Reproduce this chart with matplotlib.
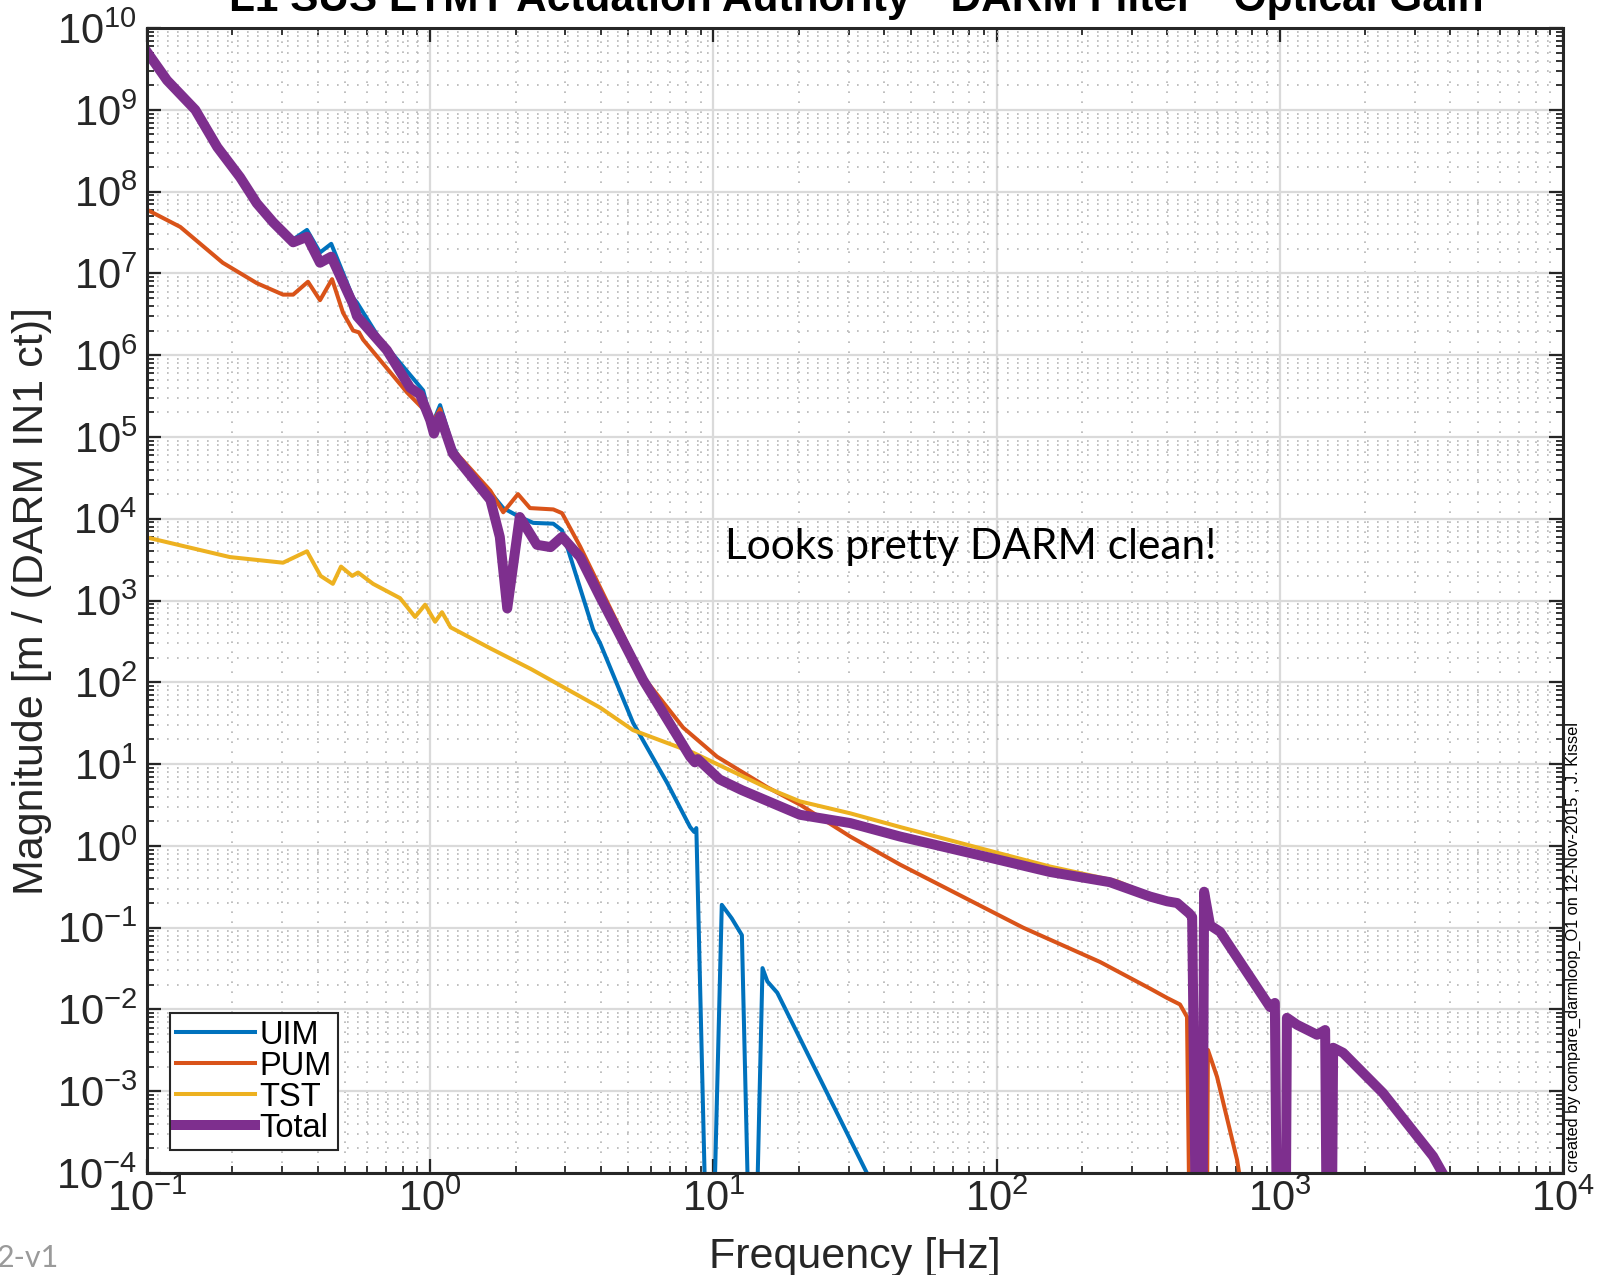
import numpy as np
import matplotlib
matplotlib.use("Agg")
from matplotlib import pyplot as plt
from matplotlib.ticker import LogLocator, NullFormatter

plt.rcParams['font.family'] = ['Liberation Sans', 'DejaVu Sans']

# values (Hz, m/ct)
uim_f = [0.1, 0.1176, 0.148, 0.177, 0.213, 0.244, 0.279, 0.328, 0.367, 0.408, 0.447,
         0.534, 0.551, 0.665, 0.703, 0.944, 1.0, 1.03, 1.083, 1.2, 1.31, 1.63, 1.81,
         2.07, 2.31, 2.72, 2.92, 3.76, 3.98, 5.2, 6.86, 8.27, 8.55, 8.7, 9.6, 9.8,
         10.7, 11.6, 12.6, 13.6, 13.9, 14.9, 15.5, 16.8, 34.8, 40.0]
uim_m = [5.1e9, 2.3e9, 1.0e9, 3.5e8, 1.5e8, 7.2e7, 4.3e7, 2.6e7, 3.4e7, 1.8e7, 2.3e7,
         5.0e6, 4.4e6, 1.55e6, 1.25e6, 3.7e5, 1.7e5, 1.6e5, 2.45e5, 7.6e4, 4.7e4, 2.1e4, 1.35e4,
         1.05e4, 8.9e3, 8.7e3, 7.2e3, 4.4e2, 3.0e2, 32, 5.9, 1.7, 1.48, 1.65, 1e-6, 1e-6,
         0.19, 0.13, 0.081, 1e-6, 1e-6, 0.032, 0.022, 0.016, 1e-4, 3e-5]

pum_f = [0.1, 0.131, 0.185, 0.244, 0.302, 0.328, 0.37, 0.408, 0.45, 0.492, 0.534, 0.56,
         0.579, 0.828, 1.0, 1.03, 1.083, 1.2, 1.63, 1.81, 2.04, 2.25, 2.72, 2.92, 3.38,
         4.57, 5.64, 7.81, 10.3, 15.5, 20.2, 30.4, 45.6, 124, 232, 348, 400, 444, 470,
         485, 550, 557, 600, 706, 730]
pum_m = [6.0e7, 3.7e7, 1.35e7, 7.6e6, 5.5e6, 5.5e6, 7.9e6, 4.7e6, 8.5e6, 3.3e6, 2.0e6, 1.9e6,
         1.55e6, 3.5e5, 1.8e5, 1.6e5, 2.2e5, 7.1e4, 2.2e4, 1.2e4, 2.0e4, 1.35e4, 1.3e4, 1.17e4, 4.6e3,
         5.4e2, 1.17e2, 28, 12.3, 5.2, 3.2, 1.3, 0.59, 0.1, 0.038, 0.018, 0.0138, 0.0115, 0.0081,
         1e-6, 1e-6, 3.2e-3, 1.5e-3, 1.45e-4, 7e-5]

tst_f = [0.1, 0.196, 0.302, 0.367, 0.41, 0.453, 0.484, 0.53, 0.556, 0.628, 0.782, 0.884,
         0.959, 1.04, 1.1, 1.18, 1.63, 2.27, 3.98, 5.2, 8.47, 15.5, 20.2, 30.4, 45.6, 101,
         154, 266, 348, 434, 490, 515, 530, 540, 567, 615, 923, 960, 990, 1040, 1059,
         1149, 1353, 1445, 1480, 1510, 1542, 1672, 2313, 3475, 4200]
tst_m = [5.9e3, 3.4e3, 2.9e3, 4.0e3, 2.0e3, 1.6e3, 2.6e3, 2.0e3, 2.2e3, 1.6e3, 1.07e3, 6.3e2,
         8.9e2, 5.5e2, 7.2e2, 4.7e2, 2.6e2, 1.45e2, 49, 26, 13.8, 5.1, 3.5, 2.5, 1.7, 0.82,
         0.56, 0.37, 0.25, 0.21, 0.14, 1e-7, 1e-7, 0.28, 0.11, 0.092, 0.011, 0.012, 1e-7, 1e-7, 8e-3,
         6.6e-3, 5e-3, 5.7e-3, 1e-7, 1e-7, 3.5e-3, 3e-3, 9.7e-4, 1.65e-4, 5e-5]

tot_f = [0.1, 0.1176, 0.148, 0.177, 0.213, 0.244, 0.279, 0.328, 0.367, 0.408, 0.447,
         0.534, 0.551, 0.703, 0.849, 0.92, 1.0, 1.03, 1.083, 1.2, 1.63, 1.76, 1.87, 2.07,
         2.38, 2.66, 2.92, 3.38, 3.98, 4.57, 5.64, 8.27, 8.6, 8.8, 10.5, 12.6, 20.2, 30.4,
         45.6, 101, 154, 251, 348, 400, 434, 478, 490, 515, 530, 540, 567, 615, 923, 960,
         990, 1040, 1059, 1149, 1353, 1445, 1480, 1510, 1542, 1672, 2313, 3475, 4200]
tot_m = [5.1e9, 2.3e9, 1.0e9, 3.5e8, 1.5e8, 7.2e7, 4.2e7, 2.4e7, 2.8e7, 1.35e7, 1.6e7,
         4.2e6, 3.0e6, 1.15e6, 4.0e5, 3.3e5, 1.6e5, 1.1e5, 1.8e5, 6.3e4, 1.7e4, 6.0e3, 8.0e2, 1.05e4,
         4.8e3, 4.5e3, 6.0e3, 3.4e3, 1.1e3, 4.4e2, 1.07e2, 12.3, 10.5, 11.5, 6.5, 4.8, 2.4, 1.9,
         1.3, 0.68, 0.48, 0.36, 0.24, 0.21, 0.20, 0.15, 0.135, 1e-7, 1e-7, 0.275, 0.107, 0.089, 0.0107, 0.012,
         1e-7, 1e-7, 7.9e-3, 6.5e-3, 4.9e-3, 5.6e-3, 1e-7, 1e-7, 3.4e-3, 2.95e-3, 9.5e-4, 1.6e-4, 5e-5]

fig = plt.figure(figsize=(16.02, 12.75), dpi=100)
ax = fig.add_axes([0.0918, 0.080, 0.8839, 0.898])

ax.loglog(uim_f, uim_m, color='#0072BD', lw=2.9, label='UIM')
ax.loglog(pum_f, pum_m, color='#D95319', lw=2.9, label='PUM')
ax.loglog(tst_f, tst_m, color='#EDB120', lw=2.9, label='TST')
ax.loglog(tot_f, tot_m, color='#7E2F8E', lw=7.2, label='Total')

ax.set_xlim(0.1, 1e4)
ax.set_ylim(1e-4, 1e10)
ax.set_yticks(10.0 ** np.arange(-4, 11))
ax.set_xticks(10.0 ** np.arange(-1, 5))
ax.yaxis.set_minor_locator(LogLocator(base=10, subs=np.arange(2, 10), numticks=100))
ax.xaxis.set_minor_locator(LogLocator(base=10, subs=np.arange(2, 10), numticks=100))
ax.yaxis.set_minor_formatter(NullFormatter())
ax.xaxis.set_minor_formatter(NullFormatter())

ax.grid(which='major', color='#dadada', lw=1.6, ls='-')
ax.grid(which='minor', color='#b5b5b5', lw=1.2, ls=(0, (1, 5)))
ax.set_axisbelow(True)

for s in ax.spines.values():
    s.set_color('#262626')
    s.set_linewidth(2.2)
ax.tick_params(which='both', direction='in', top=True, right=True, colors='#262626')
ax.tick_params(which='major', length=10, width=1.6, labelsize=30, labelcolor='#262626')
ax.tick_params(axis='y', which='major', pad=7)
ax.tick_params(axis='x', which='major', pad=5)
ax.tick_params(which='minor', length=5, width=1.3)

ax.set_xlabel('Frequency [Hz]', fontsize=31, color='#262626', labelpad=12)
ax.set_ylabel('Magnitude [m / (DARM IN1 ct)]', fontsize=31, color='#262626', labelpad=3)

fig.text(0.5343, 0.9914, 'L1 SUS ETMY Actuation Authority * DARM Filter * Optical Gain',
         fontsize=30.5, fontweight='bold', ha='center', va='baseline', color='black')

leg = ax.legend(loc='lower left', fontsize=23.5, labelspacing=0.0, handlelength=2.4,
                handletextpad=0.15, borderpad=0.2, borderaxespad=0.7, fancybox=False)
leg.get_frame().set_edgecolor('#262626')
leg.get_frame().set_linewidth(1.5)
leg.get_frame().set_alpha(1)

ax.text(0.582, 0.547, 'Looks pretty DARM clean!', transform=ax.transAxes, fontsize=30.5,
        family=['Lato', 'DejaVu Sans'], ha='center', va='center', color='black')

fig.text(0.982, 0.081, 'created by compare_darmloop_O1 on 12-Nov-2015 , J. Kissel',
         rotation=90, fontsize=11.8, ha='center', va='bottom', color='black')

fig.text(-0.002, 0.006, '2-v1', fontsize=22, family=['Lato', 'DejaVu Sans'],
         color='#9a9a9a', ha='left', va='baseline')

fig.savefig('out.png', dpi=100)
